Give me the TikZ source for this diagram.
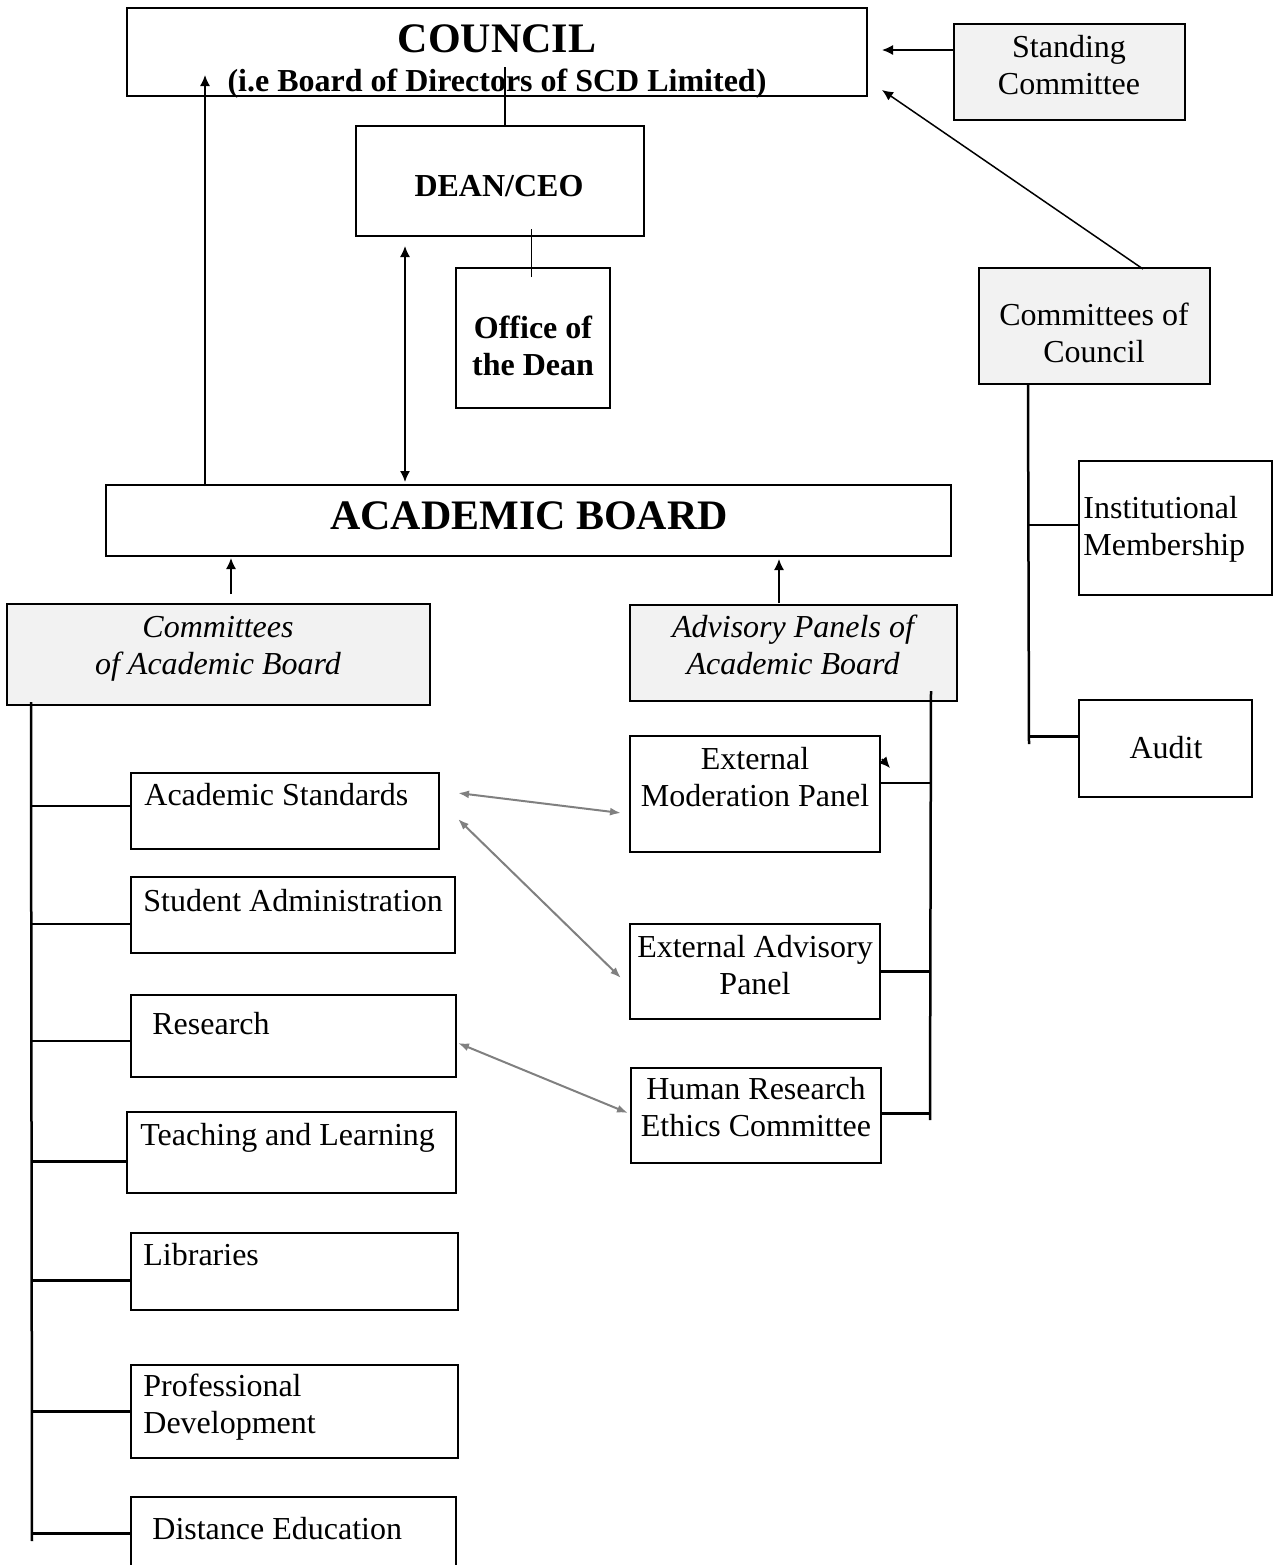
\documentclass[tikz,border=0pt]{standalone}
\usepackage{fontspec}
\setmainfont{Liberation Serif}
\usetikzlibrary{arrows.meta,fit}
\definecolor{boxgrey}{HTML}{F2F2F2}
\definecolor{linkgrey}{HTML}{808080}
\newcommand{\orgunit}[7]{%
 \node[#2, fit={(#3) (#4)}] (#1) {};%
 \node[#5] (#1-t) at (#6) {#7};%
}

\begin{document}
\begin{tikzpicture}[x=0.5pt, y=-0.5pt,
   every node/.style={inner sep=0pt, font=\fontsize{16}{18.5}\selectfont},
   box/.style={draw, line width=1pt},
   greybox/.style={box, fill=boxgrey},
   ctxt/.style={align=center},
   ltxt/.style={align=left},
   boldtxt/.style={font=\fontsize{16}{18.5}\selectfont\bfseries},
   italtxt/.style={font=\fontsize{16}{18.5}\selectfont\itshape},
   headtxt/.style={font=\fontsize{21}{24}\selectfont\bfseries},
   link/.style={line width=1.25pt},
   thinlink/.style={line width=.5pt},
   arr/.style={line width=.75pt, -{Latex[length=5.5pt,width=5pt]}},
   duo/.style={line width=.75pt, {Latex[length=5.5pt,width=5pt]}-{Latex[length=5.5pt,width=5pt]}},
   panelarr/.style={line width=1pt, draw=linkgrey, {Latex[length=5.5pt,width=4pt]}-{Latex[length=5.5pt,width=4pt]}}]
   \useasboundingbox (0,0) rectangle (1277,1565);

   \orgunit{council}{box}{127,8}{867,96}{ctxt,font=\fontsize{16}{19.5}\selectfont\bfseries}{497,61}{{\fontsize{21}{19.5}\selectfont COUNCIL}\\(i.e Board of Directors of SCD Limited)}
   \orgunit{dean}{box}{356,126}{644,236}{boldtxt,anchor=base}{499,196}{DEAN/CEO}
   \orgunit{office}{box}{456,268}{610,408}{ctxt,boldtxt}{533,345.5}{Office of\\the Dean}
   \orgunit{standing}{greybox}{954,24}{1185,120}{ctxt}{1069,65}{Standing\\Committee}
   \orgunit{cofc}{greybox}{979,268}{1210,384}{ctxt}{1094,333}{Committees of\\Council}
   \orgunit{inst}{box}{1079,461}{1272,595}{ltxt,anchor=west}{1083,529.5}{Institutional\\Membership}
   \orgunit{audit}{box}{1079,700}{1252,797}{anchor=base}{1166,758}{Audit}
   \orgunit{acboard}{box}{106,485}{951,556}{headtxt,anchor=base}{529,529}{ACADEMIC BOARD}
   \orgunit{cab}{greybox}{7,604}{430,705}{ctxt,italtxt}{218,648.5}{Committees\\of Academic Board}
   \orgunit{apab}{greybox}{630,605}{957,701}{ctxt,italtxt}{793,645}{Advisory Panels of\\Academic Board}
   \orgunit{emp}{box}{630,736}{880,852}{ctxt}{755,777}{External\\Moderation Panel}
   \orgunit{eap}{box}{630,924}{880,1019}{ctxt}{755,965}{External Advisory\\Panel}
   \orgunit{hrec}{box}{631,1068}{881,1163}{ctxt}{756,1107.5}{Human Research\\Ethics Committee}
   \orgunit{std}{box}{131,773}{439,849}{anchor=base west}{144,805}{Academic Standards}
   \orgunit{sadm}{box}{131,877}{455,953}{anchor=base west}{143,911}{Student Administration}
   \orgunit{res}{box}{131,995}{456,1077}{anchor=base west}{152,1034}{Research}
   \orgunit{tl}{box}{127,1112}{456,1193}{anchor=base west}{140,1145}{Teaching and Learning}
   \orgunit{lib}{box}{131,1233}{458,1310}{anchor=base west}{143,1265}{Libraries}
   \orgunit{prof}{box}{131,1365}{458,1458}{ltxt,anchor=west}{143,1407.5}{Professional\\Development}
   \orgunit{dist}{box}{131,1497}{456,1600}{anchor=base west}{152,1539}{Distance Education}

   \coordinate (cab-end) at (32,1541);
   \coordinate (apab-end) at (930,1120);
   \coordinate (cofc-end) at (1029,744);
   \draw[link] ([shift={(25,-4)}]cab.south west) -- (cab-end);
   \draw[link] ([shift={(-27,-11)}]apab.south east) -- (apab-end);
   \draw[link] ([shift={(50,0)}]cofc.south west) -- (cofc-end);
   \foreach \n/\d in {std/-5,sadm/9,res/5,tl/9,lib/9,prof/0,dist/-15}{
     \path ([shift={(0,\d)}]\n.west) coordinate (\n-b);
     \draw[link] (\n-b) -- (cab-end |- \n-b);
   }
   \foreach \n/\d in {emp/-11,eap/0,hrec/-2}{
     \path ([shift={(0,\d)}]\n.east) coordinate (\n-b);
     \draw[link] (\n-b) -- (apab-end |- \n-b);
   }
   \foreach \n/\d in {inst/-3,audit/-12}{
     \path ([shift={(0,\d)}]\n.west) coordinate (\n-b);
     \draw[link] (\n-b) -- (cofc-end |- \n-b);
   }

   \draw[link] ([shift={(5,0)}]dean.north) -- ([shift={(5,-58)}]dean.north);
   \draw[thinlink] ([shift={(-2,10)}]office.north) -- ([shift={(-2,-38)}]office.north);
   \draw[duo] ([shift={(50,9)}]dean.south west) -- ([shift={(300,-2)}]acboard.north west);
   \draw[arr] ([shift={(100,2)}]acboard.north west) -- ([shift={(79,68)}]council.north west);
   \draw[arr] ([shift={(0,-22)}]standing.west) -- ([shift={(14,-2)}]council.east);
   \draw[arr] ([shift={(48.5,2)}]cofc.north) -- ([shift={(14,-7)}]council.south east);
   \draw[arr] ([shift={(225,-9)}]cab.north west) -- ([shift={(126,1)}]acboard.south west);
   \draw[arr] ([shift={(150,-1)}]apab.north west) -- ([shift={(674,2)}]acboard.south west);
   \draw[arr] ([shift={(1,24)}]emp.north east) -- ([shift={(9,33)}]emp.north east);

   \draw[panelarr] ([shift={(18,-18)}]std.east) -- ([shift={(-8,19)}]emp.west);
   \draw[panelarr] ([shift={(18,8)}]std.east) -- ([shift={(-8,6.5)}]eap.west);
   \draw[panelarr] ([shift={(1,7)}]res.east) -- ([shift={(-2,-2.5)}]hrec.west);
\end{tikzpicture}
\end{document}
